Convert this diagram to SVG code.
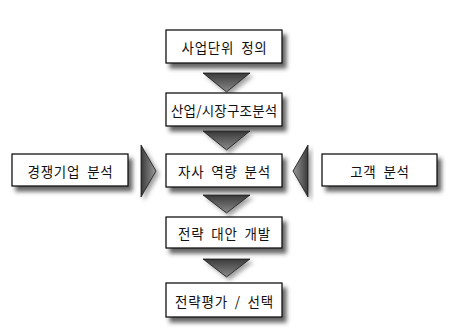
<svg xmlns="http://www.w3.org/2000/svg" width="454" height="336" viewBox="0 0 454 336">
<style>
.box{fill:#fff;stroke:#000;stroke-width:1.2;filter:url(#sh)}
.lbl{font-family:"Noto Sans CJK KR","Noto Sans",sans-serif;font-size:13.5px;fill:#111;text-anchor:middle;dominant-baseline:central;letter-spacing:0.8px;word-spacing:3px}
.tri{stroke:#111;stroke-width:0.8;filter:url(#sh2)}
</style>
<defs>
<filter id="sh" x="-20%" y="-30%" width="150%" height="190%">
<feDropShadow dx="4" dy="5" stdDeviation="2.2" flood-color="#333" flood-opacity="0.75"/>
</filter>
<filter id="sh2" x="-30%" y="-30%" width="170%" height="170%">
<feDropShadow dx="3" dy="3" stdDeviation="2" flood-color="#666" flood-opacity="0.6"/>
</filter>
<linearGradient id="gd" x1="0" y1="0" x2="0" y2="1">
<stop offset="0" stop-color="#3a3a3a"/>
<stop offset="1" stop-color="#8a8a8a"/>
</linearGradient>
<linearGradient id="gr" x1="0" y1="0" x2="1" y2="0">
<stop offset="0" stop-color="#3a3a3a"/>
<stop offset="1" stop-color="#9a9a9a"/>
</linearGradient>
<linearGradient id="gl" x1="1" y1="0" x2="0" y2="0">
<stop offset="0" stop-color="#3a3a3a"/>
<stop offset="1" stop-color="#9a9a9a"/>
</linearGradient>
</defs>
<g id="connectors">
<polygon class="tri" fill="url(#gd)" points="203,73 250,73 226.5,92"/>
<polygon class="tri" fill="url(#gd)" points="203,131 250,131 226.5,150"/>
<polygon class="tri" fill="url(#gd)" points="203,195 250,195 226.5,213"/>
<polygon class="tri" fill="url(#gd)" points="203,259 250,259 226.5,277"/>
<polygon class="tri" fill="url(#gr)" points="141,145 156,171 141,197"/>
<polygon class="tri" fill="url(#gl)" points="308,145 293,171 308,197"/>
</g>
<g id="n1"><rect class="box" x="166" y="30" width="116" height="33"/><text class="lbl" x="224.5" y="47">사업단위 정의</text></g>
<g id="n2"><rect class="box" x="166" y="93" width="116" height="33"/><text class="lbl" x="224.2" y="110" style="letter-spacing:0.2px">산업/시장구조분석</text></g>
<g id="n3"><rect class="box" x="166" y="154" width="116" height="33"/><text class="lbl" x="224.5" y="171">자사 역량 분석</text></g>
<g id="n4"><rect class="box" x="166" y="217" width="116" height="31"/><text class="lbl" x="224.5" y="233">전략 대안 개발</text></g>
<g id="n5"><rect class="box" x="166" y="283" width="116" height="34"/><text class="lbl" x="224.5" y="300.5">전략평가 / 선택</text></g>
<g id="n6"><rect class="box" x="12" y="154" width="116" height="32"/><text class="lbl" x="70.5" y="170.5">경쟁기업 분석</text></g>
<g id="n7"><rect class="box" x="322" y="154" width="115" height="32"/><text class="lbl" x="380" y="170.5">고객 분석</text></g>
</svg>
